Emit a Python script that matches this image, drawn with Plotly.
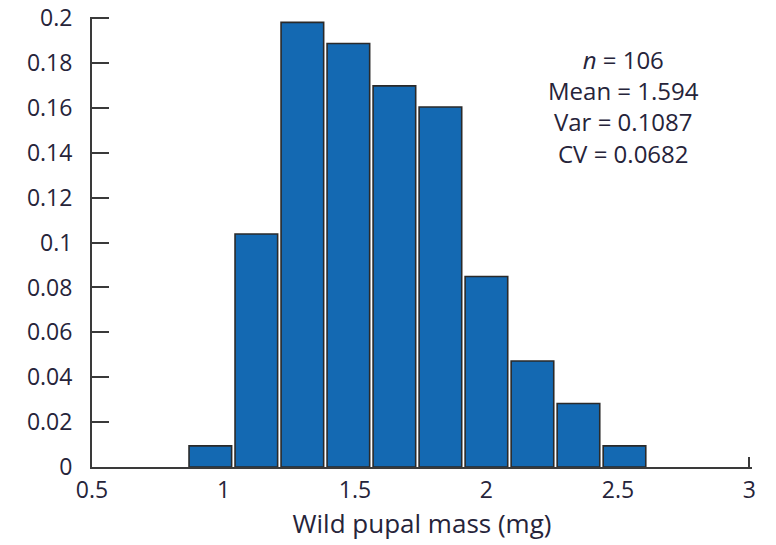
import plotly.graph_objects as go

# Bin centres (mg) and relative frequencies
bin_centers = [0.95, 1.125, 1.30, 1.475, 1.65, 1.825, 2.00, 2.175, 2.35, 2.525]
rel_freq = [0.0094, 0.1038, 0.1981, 0.1887, 0.1698, 0.1604, 0.0849, 0.0472, 0.0283, 0.0094]
x_ticks = [0.5, 1, 1.5, 2, 2.5, 3]
x_tick_labels = ["0.5", "1", "1.5", "2", "2.5", "3"]
y_ticks = [0, 0.02, 0.04, 0.06, 0.08, 0.1, 0.12, 0.14, 0.16, 0.18, 0.2]
y_tick_labels = ["0", "0.02", "0.04", "0.06", "0.08", "0.1", "0.12", "0.14", "0.16", "0.18", "0.2"]
stats_text = "<i>n</i> = 106<br>Mean = 1.594<br>Var = 0.1087<br>CV = 0.0682"

font_family = "Open Sans, Lato, sans-serif"
text_color = "#26243a"
axis_color = "#3a3a3a"

fig = go.Figure()
fig.add_trace(go.Bar(
    x=bin_centers, y=rel_freq,
    width=0.162,
    marker=dict(color="#1469b2", line=dict(color="#2a2a2a", width=1.6)),
    showlegend=False,
))

fig.update_layout(
    width=776, height=545,
    margin=dict(l=92, r=24, t=17, b=78),
    plot_bgcolor="white", paper_bgcolor="white",
    font=dict(family=font_family, size=23, color=text_color),
    xaxis=dict(
        range=[0.5, 3.01], tickvals=x_ticks, ticktext=x_tick_labels,
        showline=True, linecolor=axis_color, linewidth=2,
        ticks="inside", ticklen=10, tickwidth=2, tickcolor=axis_color,
        layer="below traces", automargin=False,
        showgrid=False, zeroline=False, ticklabelstandoff=1,
        title=dict(text="Wild pupal mass (mg)", font=dict(size=26), standoff=10),
    ),
    yaxis=dict(
        range=[0, 0.2005], tickvals=y_ticks, ticktext=y_tick_labels,
        showline=True, linecolor=axis_color, linewidth=2,
        ticks="inside", ticklen=17, tickwidth=2, tickcolor=axis_color,
        automargin=False, ticklabelstandoff=13,
        showgrid=False, zeroline=False,
    ),
    annotations=[dict(
        x=0.805, y=0.947, xref="paper", yref="paper",
        text=stats_text, showarrow=False, align="center",
        xanchor="center", yanchor="top",
        font=dict(size=24, color=text_color, family=font_family),
    )],
)

fig.write_html("out.html")
